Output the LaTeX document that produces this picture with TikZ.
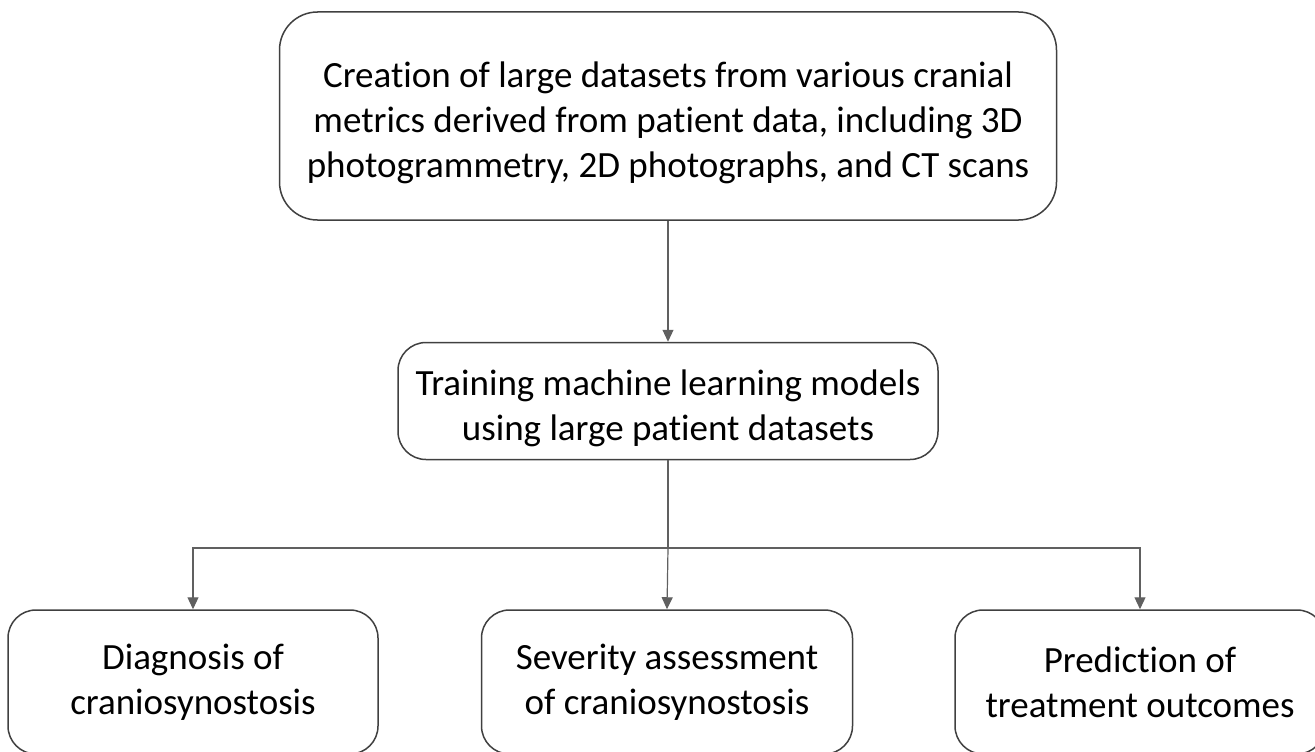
\documentclass[tikz,border=0pt]{standalone}
\usepackage{fontspec}
\setmainfont{Carlito}[Ligatures={NoCommon}]
\usetikzlibrary{arrows.meta}
\definecolor{boxline}{RGB}{64,64,64}
\definecolor{arrowgray}{RGB}{96,96,96}
\tikzset{
  stepbox/.style={draw=boxline, line width=1.5pt, rounded corners=28pt, align=center,
    inner sep=0pt, font=\fontsize{37}{45}\selectfont},
  flow/.style={draw=arrowgray, line width=1.2pt, -{Triangle[width=11pt,length=12pt]}}
}
\begin{document}
\begin{tikzpicture}[x=1pt,y=-1pt]
            \useasboundingbox (0,0) rectangle (1315,752);
            \clip (0,0) rectangle (1315,752);
            \node[stepbox, rounded corners=38pt, minimum width=777pt, minimum height=208pt] (data) at (668,116)
              {\rule{0pt}{39pt}Creation of large datasets from various cranial\\metrics derived from patient data, including 3D\\photogrammetry, 2D photographs, and CT scans};
            \node[stepbox, minimum width=540pt, minimum height=117pt] (train) at (668,401)
              {\rule{0pt}{40pt}Training machine learning models\\using large patient datasets};
            \node[stepbox, minimum width=370pt, minimum height=144pt] (diag) at (193,682)
              {Diagnosis of\\craniosynostosis};
            \node[stepbox, minimum width=371pt, minimum height=144pt] (sev) at (667,682)
              {Severity assessment\\of craniosynostosis};
            \node[stepbox, minimum width=370pt, minimum height=144pt] (pred) at (1140,682)
              {Prediction of\\treatment outcomes};
            \coordinate (fork) at (668,548);
            \draw[flow] (data) -- (train);
            \draw[draw=arrowgray, line width=1.2pt] (train.south) -- (fork);
            \draw[flow] (fork) -| (diag.north);
            \draw[flow] (fork) -- (sev.north);
            \draw[flow] (fork) -| (pred.north);
        \end{tikzpicture}
\end{document}
